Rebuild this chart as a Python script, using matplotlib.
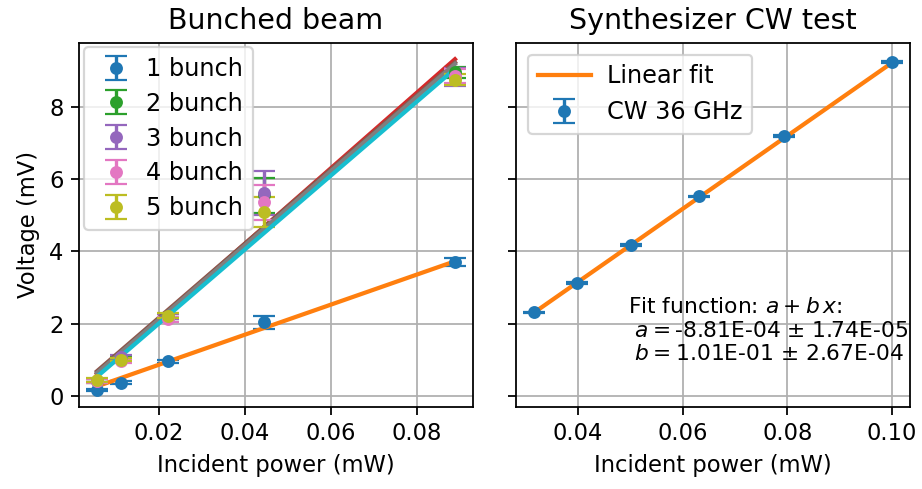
import numpy as np
import matplotlib
matplotlib.use("Agg")
import matplotlib.pyplot as plt

# Bunched beam measurements
power_bunch = [0.00556, 0.0111, 0.0222, 0.0445, 0.0889]
bunch_labels = ["1 bunch", "2 bunch", "3 bunch", "4 bunch", "5 bunch"]
bunch_voltage = [
    [0.165, 0.37, 0.97, 2.04, 3.70],
    [0.42, 1.02, 2.20, 5.55, 8.95],
    [0.43, 1.08, 2.20, 5.62, 8.82],
    [0.42, 0.98, 2.12, 5.36, 8.85],
    [0.44, 1.01, 2.23, 5.09, 8.75],
]
bunch_err = [
    [0.03, 0.04, 0.04, 0.18, 0.11],
    [0.05, 0.05, 0.08, 0.49, 0.15],
    [0.05, 0.05, 0.08, 0.61, 0.25],
    [0.05, 0.05, 0.08, 0.48, 0.20],
    [0.05, 0.05, 0.08, 0.42, 0.15],
]
# linear fit per bunch count: (intercept, slope)
bunch_fit = [
    (0.04, 41.5),
    (0.04, 104.3),
    (0.12, 102.4),
    (0.07, 102.5),
    (-0.03, 102.1),
]

# Synthesizer CW test
power_cw = [0.0316, 0.0398, 0.0501, 0.0631, 0.0794, 0.1000]
voltage_cw = [2.317, 3.13, 4.18, 5.52, 7.19, 9.24]
err_cw = [0.02, 0.02, 0.02, 0.02, 0.02, 0.02]
fit_a, fit_a_err = -8.81e-04, 1.74e-05   # V
fit_b, fit_b_err = 1.01e-01, 2.67e-04    # V / mW

plt.rcParams["font.size"] = 10.2

fig, (ax1, ax2) = plt.subplots(1, 2, sharey=True, figsize=(922 / 160, 489 / 160), dpi=160)
fig.subplots_adjust(left=0.0857, right=0.987, bottom=0.1683, top=0.9127, wspace=0.11)

xb = np.array(power_bunch)
for label, v, e, (c0, c1) in zip(bunch_labels, bunch_voltage, bunch_err, bunch_fit):
    ax1.errorbar(xb, v, yerr=e, fmt="o", capsize=5, markersize=4.8, label=label)
    ax1.plot(xb, c0 + c1 * xb, linewidth=1.9)

ax1.set_title("Bunched beam", fontsize=12.8)
ax1.set_xlabel("Incident power (mW)")
ax1.set_ylabel("Voltage (mV)")
ax1.grid(True)
ax1.legend(loc="upper left", fontsize=10.8, handlelength=1.9, handletextpad=0.3,
           borderaxespad=0.2, labelspacing=0.45)
ax1.set_xticks([0.02, 0.04, 0.06, 0.08])
ax1.set_ylim(-0.29, 9.77)

xc = np.array(power_cw)
ax2.errorbar(xc, voltage_cw, yerr=err_cw, fmt="o", capsize=5, markersize=4.8, label="CW 36 GHz")
ax2.plot(xc, (fit_a + fit_b * xc) * 1000, linewidth=1.9, label="Linear fit")
ax2.set_title("Synthesizer CW test", fontsize=12.8)
ax2.set_xlabel("Incident power (mW)")
ax2.grid(True)
ax2.legend(loc="upper left", fontsize=10.8, handlelength=2.2, handletextpad=0.7,
           borderaxespad=0.5)
ax2.set_xticks([0.04, 0.06, 0.08, 0.10])
ax2.text(0.283, 0.118,
         "Fit function: $a + b\\,x$:\n"
         f" $a = ${fit_a:.2E} ± {fit_a_err:.2E}\n"
         f" $b = ${fit_b:.2E} ± {fit_b_err:.2E}",
         transform=ax2.transAxes, fontsize=9.8, va="bottom", ha="left")

fig.savefig("out.png", dpi=160)
